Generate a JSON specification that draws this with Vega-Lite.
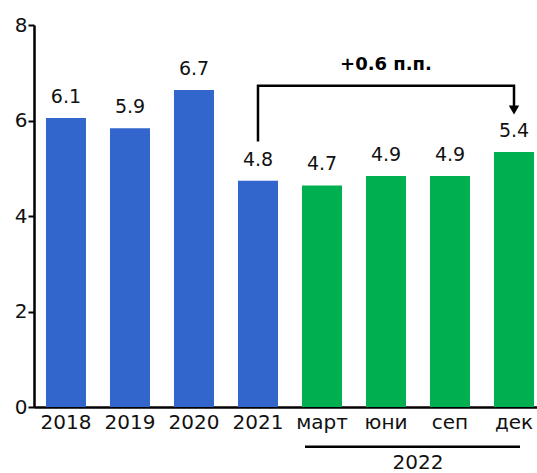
{
  "$schema": "https://vega.github.io/schema/vega-lite/v6.json",
  "width": 503,
  "height": 382,
  "autosize": "none",
  "padding": {"left": 34, "top": 25, "right": 0, "bottom": 66},
  "config": {"font": "DejaVu Sans", "view": {"stroke": null}},
  "datasets": {
    "bars": [
      {"cat": "2018", "value": 6.05, "label": "6.1", "group": "year"},
      {"cat": "2019", "value": 5.84, "label": "5.9", "group": "year"},
      {"cat": "2020", "value": 6.64, "label": "6.7", "group": "year"},
      {"cat": "2021", "value": 4.74, "label": "4.8", "group": "year"},
      {"cat": "март", "value": 4.64, "label": "4.7", "group": "2022"},
      {"cat": "юни", "value": 4.84, "label": "4.9", "group": "2022"},
      {"cat": "сеп", "value": 4.84, "label": "4.9", "group": "2022"},
      {"cat": "дек", "value": 5.34, "label": "5.4", "group": "2022"}
    ],
    "bracket": [
      {"cat": "2021", "value": 5.56, "order": 1},
      {"cat": "2021", "value": 6.73, "order": 2},
      {"cat": "дек", "value": 6.73, "order": 3},
      {"cat": "дек", "value": 6.2, "order": 4}
    ],
    "arrow": [{"cat": "дек", "value": 6.22}],
    "note": [{"cat": "юни", "value": 7.16, "text": "+0.6 п.п."}],
    "yearline": [{"cat": "март", "cat2": "дек", "value": -0.83}],
    "yeartext": [{"cat": "юни", "value": -1.17, "text": "2022"}]
  },
  "layer": [
    {
      "data": {"name": "bars"},
      "mark": {"type": "bar"},
      "encoding": {
        "x": {
          "field": "cat", "type": "nominal", "sort": null, "title": null,
          "scale": {"domain": ["2018", "2019", "2020", "2021", "март", "юни", "сеп", "дек"], "paddingInner": 0.375, "paddingOuter": 0.117, "align": 0.8},
          "axis": {"labelAngle": 0, "labelFontSize": 20, "labelColor": "#111", "ticks": false, "tickSize": 0, "labelPadding": 5, "domainColor": "#000", "domainWidth": 2.5}
        },
        "y": {
          "field": "value", "type": "quantitative", "title": null,
          "scale": {"domain": [0, 8], "nice": false},
          "axis": {"values": [0, 2, 4, 6, 8], "grid": false, "labelFontSize": 20, "labelColor": "#111", "tickColor": "#000", "tickWidth": 2, "tickSize": 6, "labelPadding": 1, "domainColor": "#000", "domainWidth": 2.5}
        },
        "color": {"field": "group", "type": "nominal", "legend": null, "scale": {"domain": ["year", "2022"], "range": ["#3366CC", "#00B050"]}}
      }
    },
    {
      "data": {"name": "bars"},
      "mark": {"type": "text", "fontSize": 19, "color": "#111", "baseline": "alphabetic", "dy": -15},
      "encoding": {
        "x": {"field": "cat", "type": "nominal", "sort": null, "title": null},
        "y": {"field": "value", "type": "quantitative", "title": null},
        "text": {"field": "label"}
      }
    },
    {
      "data": {"name": "bracket"},
      "mark": {"type": "line", "color": "#000", "strokeWidth": 2.5, "strokeJoin": "miter"},
      "encoding": {
        "x": {"field": "cat", "type": "nominal", "sort": null, "title": null},
        "y": {"field": "value", "type": "quantitative", "title": null},
        "order": {"field": "order"}
      }
    },
    {
      "data": {"name": "arrow"},
      "mark": {"type": "point", "shape": "triangle-down", "filled": true, "color": "#000", "size": 110, "opacity": 1},
      "encoding": {
        "x": {"field": "cat", "type": "nominal", "sort": null, "title": null},
        "y": {"field": "value", "type": "quantitative", "title": null}
      }
    },
    {
      "data": {"name": "note"},
      "mark": {"type": "text", "fontSize": 18, "fontWeight": "bold", "color": "#000", "baseline": "middle"},
      "encoding": {
        "x": {"field": "cat", "type": "nominal", "sort": null, "title": null},
        "y": {"field": "value", "type": "quantitative", "title": null},
        "text": {"field": "text"}
      }
    },
    {
      "data": {"name": "yearline"},
      "mark": {"type": "rule", "color": "#000", "strokeWidth": 2.5},
      "encoding": {
        "x": {"field": "cat", "type": "nominal", "sort": null, "title": null, "bandPosition": 0.075},
        "x2": {"field": "cat2", "bandPosition": 0.65},
        "y": {"field": "value", "type": "quantitative", "title": null}
      }
    },
    {
      "data": {"name": "yeartext"},
      "mark": {"type": "text", "fontSize": 20, "color": "#111", "baseline": "middle"},
      "encoding": {
        "x": {"field": "cat", "type": "nominal", "sort": null, "title": null, "bandPosition": 1.3},
        "y": {"field": "value", "type": "quantitative", "title": null},
        "text": {"field": "text"}
      }
    }
  ]
}
